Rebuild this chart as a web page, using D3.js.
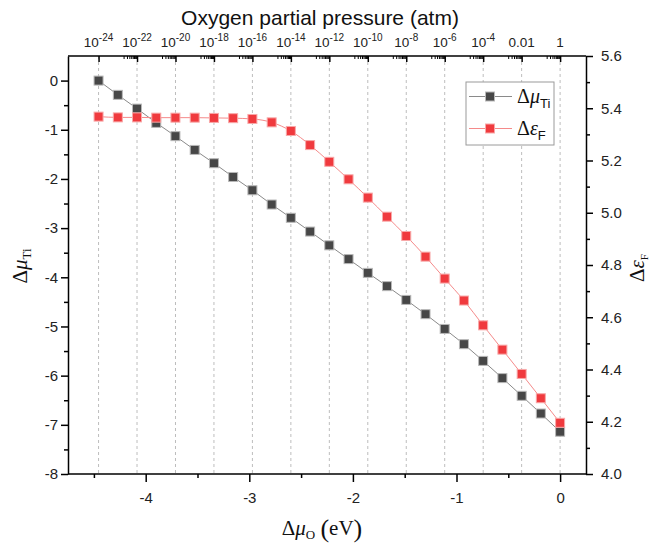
<!DOCTYPE html>
<html><head><meta charset="utf-8">
<script src="https://cdn.jsdelivr.net/npm/d3@7"></script>
<style>body{margin:0;background:#fff}</style></head>
<body>
<svg id="c" width="657" height="544"></svg>
<script>
// ---- data ----
const deltaMuO = [-4.455,-4.269,-4.084,-3.898,-3.713,-3.527,-3.341,-3.156,-2.970,-2.784,-2.599,-2.413,-2.228,-2.042,-1.856,-1.671,-1.485,-1.299,-1.114,-0.928,-0.743,-0.557,-0.371,-0.186,0];
const deltaMuTi = [0.00,-0.29,-0.57,-0.86,-1.13,-1.41,-1.68,-1.96,-2.23,-2.52,-2.79,-3.07,-3.35,-3.63,-3.91,-4.18,-4.46,-4.75,-5.05,-5.36,-5.70,-6.05,-6.41,-6.77,-7.14];
const deltaEF = [5.368,5.365,5.365,5.364,5.364,5.364,5.363,5.362,5.359,5.346,5.313,5.259,5.195,5.128,5.058,4.985,4.911,4.832,4.748,4.664,4.569,4.476,4.383,4.290,4.196];
const pressureExponents = [-24,-22,-20,-18,-16,-14,-12,-10,-8,-6,-4,-2,0];
const pressureLabels = [["10","-24"],["10","-22"],["10","-20"],["10","-18"],["10","-16"],["10","-14"],["10","-12"],["10","-10"],["10","-8"],["10","-6"],["10","-4"],["0.01",""],["1",""]];
const bottomTicks = [-4,-3,-2,-1,0];
const bottomMinor = [-4.5,-3.5,-2.5,-1.5,-0.5];
const leftTicks = [0,-1,-2,-3,-4,-5,-6,-7,-8];
const leftMinor = [-0.5,-1.5,-2.5,-3.5,-4.5,-5.5,-6.5,-7.5];
const rightTicks = [4.0,4.2,4.4,4.6,4.8,5.0,5.2,5.4,5.6];
const rightMinor = [4.1,4.3,4.5,4.7,4.9,5.1,5.3,5.5];

// ---- layout ----
const L=68,R=586,T=56,B=474;
const svg=d3.select("#c");
const x=d3.scaleLinear().domain([-4.75,0.25]).range([L,R]);
const yL=d3.scaleLinear().domain([-8,0.5]).range([B,T]);
const yR=d3.scaleLinear().domain([4.0,5.6]).range([B,T]);
const xTop=d3.scaleLinear().domain([-24,0]).range([x(deltaMuO[0]),x(0)]);
const sans="Liberation Sans, Arial, sans-serif", serif="Liberation Serif, Times New Roman, serif";
const intFmt=d=>String(d);

// grid
svg.append("g").selectAll("line").data(pressureExponents).join("line")
  .attr("x1",d=>xTop(d)).attr("x2",d=>xTop(d)).attr("y1",T).attr("y2",B)
  .attr("stroke","#bdbdbd").attr("stroke-width",1).attr("stroke-dasharray","3,3");

// axes
function styleAxis(g){g.selectAll("path").attr("stroke","#000").attr("stroke-width",1.5);
  g.selectAll("line").attr("stroke","#000").attr("stroke-width",1.5);
  g.selectAll("text").attr("font-family",sans).attr("font-size",15).attr("fill","#222");}

const gb=svg.append("g").attr("transform",`translate(0,${B})`)
  .call(d3.axisBottom(x).tickValues(bottomTicks).tickSizeInner(8).tickSizeOuter(0).tickPadding(10).tickFormat(intFmt));
styleAxis(gb);
gb.select(".domain").attr("d",`M${L},0H${R}`);
svg.append("g").attr("transform",`translate(0,${B})`)
  .call(d3.axisBottom(x).tickValues(bottomMinor).tickSizeInner(4).tickSizeOuter(0).tickFormat(""))
  .call(g=>{g.select(".domain").remove();g.selectAll("line").attr("stroke","#000").attr("stroke-width",1.5);});

const gl=svg.append("g").attr("transform",`translate(${L},0)`)
  .call(d3.axisLeft(yL).tickValues(leftTicks).tickSizeInner(7).tickSizeOuter(0).tickPadding(3).tickFormat(intFmt));
styleAxis(gl);
svg.append("g").attr("transform",`translate(${L},0)`)
  .call(d3.axisLeft(yL).tickValues(leftMinor).tickSizeInner(4).tickSizeOuter(0).tickFormat(""))
  .call(g=>{g.select(".domain").remove();g.selectAll("line").attr("stroke","#000").attr("stroke-width",1.5);});

const gr=svg.append("g").attr("transform",`translate(${R},0)`)
  .call(d3.axisRight(yR).tickValues(rightTicks).tickSizeInner(7).tickSizeOuter(0).tickPadding(8).tickFormat(d=>d.toFixed(1)));
styleAxis(gr);
svg.append("g").attr("transform",`translate(${R},0)`)
  .call(d3.axisRight(yR).tickValues(rightMinor).tickSizeInner(4).tickSizeOuter(0).tickFormat(""))
  .call(g=>{g.select(".domain").remove();g.selectAll("line").attr("stroke","#000").attr("stroke-width",1.5);});

// top axis (ticks inward)
const gt=svg.append("g").attr("transform",`translate(0,${T})`)
  .call(d3.axisTop(xTop).tickValues(pressureExponents).tickSizeInner(-6).tickSizeOuter(0).tickFormat(""));
styleAxis(gt);
gt.select(".domain").attr("d",`M${L},0H${R}`);
const topMinor=[];
pressureExponents.slice(1).forEach(e=>{for(let k=2;k<=9;k++)topMinor.push(e-1+Math.log10(k));});
svg.append("g").attr("transform",`translate(0,${T})`)
  .call(d3.axisTop(xTop).tickValues(topMinor).tickSizeInner(-3).tickSizeOuter(0).tickFormat(""))
  .call(g=>{g.select(".domain").remove();g.selectAll("line").attr("stroke","#000").attr("stroke-width",1);});
const tl=svg.append("g").selectAll("text").data(pressureExponents).join("text")
  .attr("x",d=>xTop(d)).attr("y",T-9).attr("text-anchor","middle")
  .attr("font-family",sans).attr("font-size",13.5).attr("fill","#222");
tl.each(function(d,i){const t=d3.select(this);const lb=pressureLabels[i];
  t.append("tspan").text(lb[0]);
  if(lb[1]) t.append("tspan").attr("dy",-6).attr("font-size",10).text(lb[1]);});
svg.append("text").attr("x",320).attr("y",25).attr("text-anchor","middle")
  .attr("font-family",sans).attr("font-size",21).attr("fill","#111").text("Oxygen partial pressure (atm)");

// series
const lineL=d3.line().x((d,i)=>x(deltaMuO[i])).y(d=>yL(d));
const lineR=d3.line().x((d,i)=>x(deltaMuO[i])).y(d=>yR(d));
svg.append("path").datum(deltaMuTi).attr("d",lineL).attr("fill","none").attr("stroke","#8a8a8a").attr("stroke-width",1);
svg.append("path").datum(deltaEF).attr("d",lineR.curve(d3.curveMonotoneX)).attr("fill","none").attr("stroke","#f58a8a").attr("stroke-width",1);
const S=9;
svg.append("g").selectAll("rect").data(deltaMuTi).join("rect")
  .attr("x",(d,i)=>x(deltaMuO[i])-S/2).attr("y",d=>yL(d)-S/2).attr("width",S).attr("height",S)
  .attr("fill","#474747").attr("stroke","#b8b8b8").attr("stroke-width",1);
svg.append("g").selectAll("rect").data(deltaEF).join("rect")
  .attr("x",(d,i)=>x(deltaMuO[i])-S/2).attr("y",d=>yR(d)-S/2).attr("width",S).attr("height",S)
  .attr("fill","#f03a3e").attr("stroke","#f8a8a8").attr("stroke-width",1);

// legend
const lg=svg.append("g");
lg.append("rect").attr("x",466).attr("y",82).attr("width",88).attr("height",63)
  .attr("fill","#fff").attr("stroke","#9a9a9a").attr("stroke-width",1);
[[96.5,"#8a8a8a","#474747","#b8b8b8","μ","Ti"],[128.5,"#f58a8a","#f03a3e","#f8a8a8","ε","F"]].forEach(r=>{
  lg.append("line").attr("x1",469).attr("x2",512).attr("y1",r[0]).attr("y2",r[0]).attr("stroke",r[1]).attr("stroke-width",1);
  lg.append("rect").attr("x",490-S/2).attr("y",r[0]-S/2).attr("width",S).attr("height",S).attr("fill",r[2]).attr("stroke",r[3]);
  const t=lg.append("text").attr("x",517).attr("y",r[0]+6).attr("font-family",serif).attr("font-size",20).attr("fill","#111");
  t.append("tspan").text("Δ");
  t.append("tspan").attr("font-style","italic").text(r[4]);
  t.append("tspan").attr("font-family",sans).attr("font-size",13).attr("dy",5).text(r[5]);
});

// axis titles
const bt=svg.append("text").attr("x",322).attr("y",535).attr("text-anchor","middle")
  .attr("font-family",serif).attr("font-size",21).attr("fill","#111");
bt.append("tspan").text("Δ");
bt.append("tspan").attr("font-style","italic").text("μ");
bt.append("tspan").attr("font-size",13).attr("dy",4).text("O");
bt.append("tspan").attr("dy",-2).attr("font-size",26).text("\u2009(");
bt.append("tspan").attr("dy",-2).attr("font-size",21).text("eV");
bt.append("tspan").attr("dy",2).attr("font-size",26).text(")");

const lt=svg.append("text").attr("transform","translate(27,266) rotate(-90)").attr("text-anchor","middle")
  .attr("font-family",serif).attr("font-size",21).attr("fill","#111");
lt.append("tspan").text("Δ");
lt.append("tspan").attr("font-style","italic").text("μ");
lt.append("tspan").attr("font-size",13).attr("dy",4).text("Ti");

const rt=svg.append("text").attr("transform","translate(644,268) rotate(-90)").attr("text-anchor","middle")
  .attr("font-family",serif).attr("font-size",21).attr("fill","#111");
rt.append("tspan").text("Δ");
rt.append("tspan").attr("font-style","italic").text("ε");
rt.append("tspan").attr("font-size",11).attr("dy",4).text("F");
</script>
</body></html>
